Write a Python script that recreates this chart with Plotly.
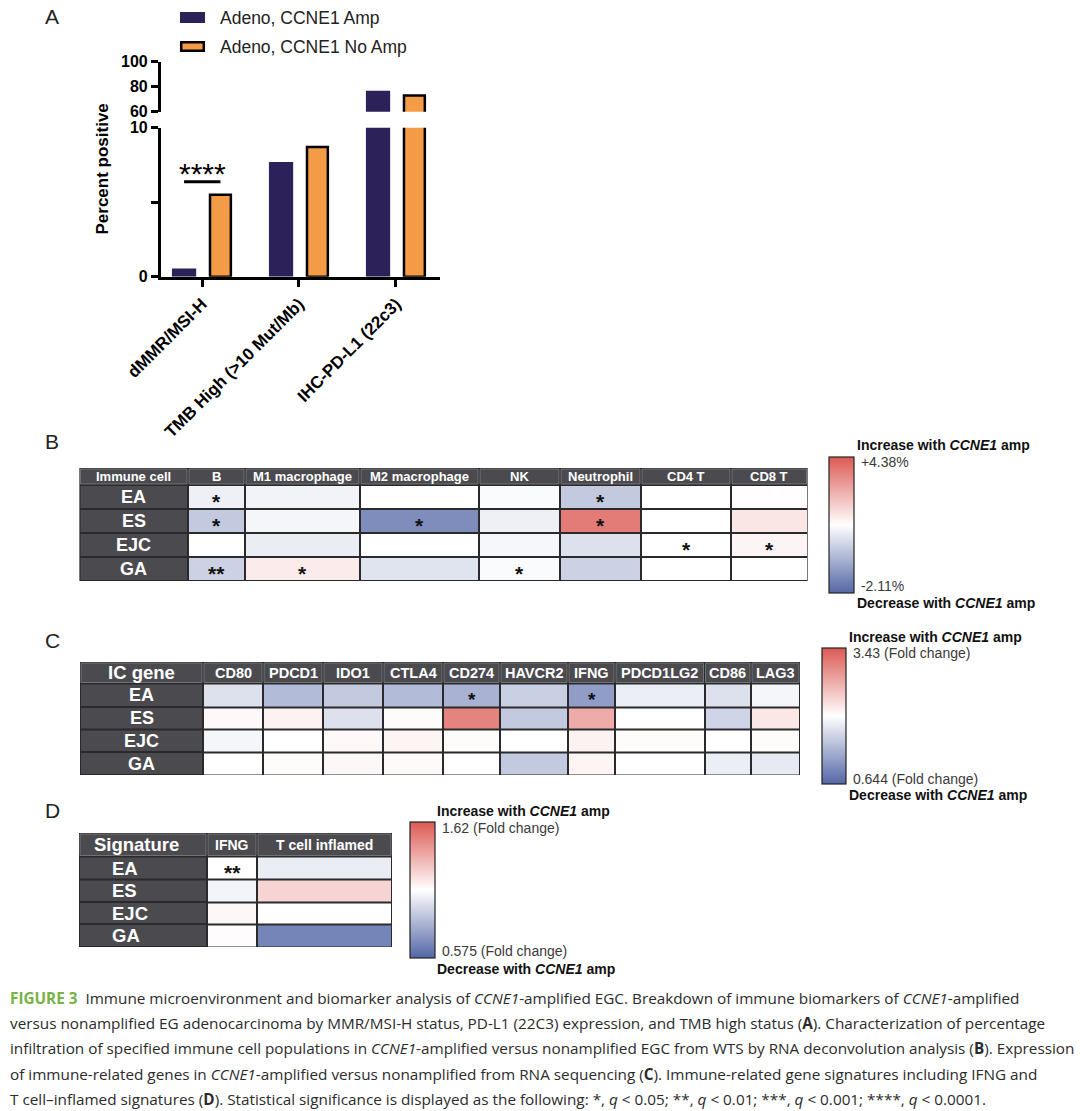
import plotly.graph_objects as go

W, H = 1080, 1111


def px(x):
    return x / W


def py(y):
    return 1 - y / H


# ------------------------------------------------------------------ DATA
# Panel A
a_categories = ["dMMR/MSI-H", "TMB High (>10 Mut/Mb)", "IHC-PD-L1 (22c3)"]
a_series = ["Adeno, CCNE1 Amp", "Adeno, CCNE1 No Amp"]
a_amp = [0.55, 7.7, 76.8]
a_noamp = [5.5, 8.7, 72.9]
a_sig_label = "****"
a_sig_height = 6.38

# Panel B  (difference in % infiltration, CCNE1 amp vs no amp)
b_rows = ["EA", "ES", "EJC", "GA"]
b_cols = ["B", "M1 macrophage", "M2 macrophage", "NK", "Neutrophil", "CD4 T", "CD8 T"]
b_vals = [
    [-0.21, -0.17, 0.00, -0.06, -0.74, 0.00, 0.05],
    [-0.74, -0.13, -1.58, -0.21, 3.50, 0.00, 0.66],
    [0.00, -0.25, 0.00, -0.11, -0.42, 0.00, 0.26],
    [-0.63, 0.53, -0.38, -0.06, -0.63, 0.00, 0.00],
]
b_sig = [
    ["*", "", "", "", "*", "", ""],
    ["*", "", "*", "", "*", "", ""],
    ["", "", "", "", "", "*", "*"],
    ["**", "*", "", "*", "", "", ""],
]
b_min, b_max, b_mid = -2.11, 4.38, 0.0
b_ticktext = ["+4.38%", "-2.11%"]

# Panel C  (fold change)
c_rows = ["EA", "ES", "EJC", "GA"]
c_cols = ["CD80", "PDCD1", "IDO1", "CTLA4", "CD274", "HAVCR2", "IFNG", "PDCD1LG2", "CD86", "LAG3"]
c_vals = [
    [0.93, 0.84, 0.875, 0.84, 0.82, 0.89, 0.77, 0.96, 0.93, 0.98],
    [1.10, 1.19, 0.93, 1.05, 2.82, 0.875, 2.22, 1.00, 0.90, 1.36],
    [0.98, 1.00, 1.10, 1.15, 1.05, 1.00, 1.19, 1.05, 1.00, 1.05],
    [1.00, 1.05, 1.12, 1.07, 1.00, 0.875, 1.15, 1.00, 0.96, 0.95],
]
c_sig = [
    ["", "", "", "", "*", "", "*", "", "", ""],
    ["", "", "", "", "", "", "", "", "", ""],
    ["", "", "", "", "", "", "", "", "", ""],
    ["", "", "", "", "", "", "", "", "", ""],
]
c_min, c_max, c_mid = 0.644, 3.43, 1.0
c_ticktext = ["3.43 (Fold change)", "0.644 (Fold change)"]

# Panel D  (fold change)
d_rows = ["EA", "ES", "EJC", "GA"]
d_cols = ["IFNG", "T cell inflamed"]
d_vals = [
    [1.00, 0.95],
    [0.97, 1.16],
    [1.03, 1.00],
    [1.01, 0.66],
]
d_sig = [
    ["**", ""],
    ["", ""],
    ["", ""],
    ["", ""],
]
d_min, d_max, d_mid = 0.575, 1.62, 1.0
d_ticktext = ["1.62 (Fold change)", "0.575 (Fold change)"]

caption_lines = [
    "<b><span style='color:#76b244'>FIGURE 3</span></b>  Immune microenvironment and biomarker analysis of <i>CCNE1</i>-amplified EGC. Breakdown of immune biomarkers of <i>CCNE1</i>-amplified",
    "versus nonamplified EG adenocarcinoma by MMR/MSI-H status, PD-L1 (22C3) expression, and TMB high status (<b>A</b>). Characterization of percentage",
    "infiltration of specified immune cell populations in <i>CCNE1</i>-amplified versus nonamplified EGC from WTS by RNA deconvolution analysis (<b>B</b>). Expression",
    "of immune-related genes in <i>CCNE1</i>-amplified versus nonamplified from RNA sequencing (<b>C</b>). Immune-related gene signatures including IFNG and",
    "T cell\u2013inflamed signatures (<b>D</b>). Statistical significance is displayed as the following: *, <i>q</i> &lt; 0.05; **, <i>q</i> &lt; 0.01; ***, <i>q</i> &lt; 0.001; ****, <i>q</i> &lt; 0.0001.",
]

# ------------------------------------------------------------------ STYLE
NAVY = "#2d2159"
ORANGE = "#f49b47"
CELL_DARK = "#4b4b4f"
LINE_DARK = "#2a2a2c"
COLORSCALE = [[0.0, "#5467a6"], [0.5, "#ffffff"], [1.0, "#dc5a54"]]
FONT = "Arial"

fig = go.Figure()
shapes = []
annotations = []


def note(x, y, text, size, color="#222", xanchor="center", yanchor="middle", **kw):
    d = dict(xref="paper", yref="paper", x=px(x), y=py(y), text=text, showarrow=False,
             xanchor=xanchor, yanchor=yanchor, font=dict(family=kw.pop("family", FONT), size=size, color=color))
    d.update(kw)
    annotations.append(d)


# ------------------------------------------------------------------ PANEL A
xi = list(range(len(a_categories)))
for xa, ya in (("x", "y"), ("x2", "y2")):
    fig.add_trace(go.Bar(x=xi, y=a_amp, width=0.25, offset=-0.31, name=a_series[0],
                         marker=dict(color=NAVY, line=dict(width=0)),
                         xaxis=xa, yaxis=ya, showlegend=False, hoverinfo="skip"))
    fig.add_trace(go.Bar(x=xi, y=a_noamp, width=0.215, offset=0.0825, name=a_series[1],
                         marker=dict(color=ORANGE, line=dict(color="black", width=2.5)),
                         xaxis=xa, yaxis=ya, showlegend=False, hoverinfo="skip"))

axis_common = dict(showline=True, linecolor="black", linewidth=2.5, ticks="outside",
                   tickcolor="black", tickwidth=2.5, showgrid=False, zeroline=False,
                   fixedrange=True, automargin=False)
layout_axes = dict(
    xaxis=dict(domain=[px(160.7), px(440)], range=[-0.426, 2.454], anchor="y",
               tickvals=xi, ticktext=a_categories, tickangle=-45, ticklen=8,
               tickfont=dict(family=FONT, size=17, color="black", weight="bold"), **axis_common),
    yaxis=dict(domain=[py(276.7), py(127.7)], range=[0, 10], anchor="x",
               tickvals=[0, 5, 10], ticktext=["0", "", "10"], ticklen=7,
               tickfont=dict(family=FONT, size=16, color="black", weight="bold"), **axis_common),
    xaxis2=dict(domain=[px(160.7), px(440)], range=[-0.426, 2.454], anchor="y2",
                visible=False, fixedrange=True),
    yaxis2=dict(domain=[py(111.7), py(61.7)], range=[60, 100], anchor="x2",
                tickvals=[60, 80, 100], ticklen=7,
                tickfont=dict(family=FONT, size=16, color="black", weight="bold"), **axis_common),
)

# significance bar
shapes.append(dict(type="line", xref="x", yref="y", x0=xi[0] - 0.185, x1=xi[0] + 0.19,
                   y0=a_sig_height, y1=a_sig_height, line=dict(color="black", width=3)))
annotations.append(dict(xref="x", yref="y", x=xi[0] + 0.005, y=a_sig_height, yanchor="bottom",
                        xanchor="center", yshift=-10, text=a_sig_label, showarrow=False,
                        font=dict(family=FONT, size=30, color="black")))
# y title
note(101.5, 169, "<b>Percent positive</b>", 17, color="black", textangle=-90)
# manual legend
leg_y = [17.5, 46.5]
for k, (name, col) in enumerate(zip(a_series, [NAVY, ORANGE])):
    yc = leg_y[k]
    if k == 0:
        shapes.append(dict(type="rect", xref="paper", yref="paper", x0=px(180), x1=px(205),
                           y0=py(yc + 5.5), y1=py(yc - 5.5), fillcolor=col, line=dict(width=0)))
    else:
        shapes.append(dict(type="rect", xref="paper", yref="paper", x0=px(181.2), x1=px(203.8),
                           y0=py(yc + 4.3), y1=py(yc - 4.3), fillcolor=col,
                           line=dict(color="black", width=2.5)))
    note(218, yc, name, 17.5, xanchor="left")

# panel letters
for letter, (lx, ly) in zip("ABCD", [(52, 16), (52, 441), (52, 640), (52, 810)]):
    note(lx, ly, letter, 21)


# ------------------------------------------------------------------ TABLE HEATMAPS
def normalise(vals, lo, hi, mid):
    out = []
    for row in vals:
        out.append([(v - mid) / (hi - mid) if v >= mid else (v - mid) / (mid - lo) for v in row])
    return out


def add_table(n, col_edges, row_edges, corner, rows, cols, vals, sig, lo, hi, mid, ticktext,
              cbar, corner_size, head_size, row_size, sig_size, row_left=None, corner_left=None,
              cb_tick_pos=(0.92, -0.9), titles_x=None, titles_y=None):
    xa, ya = f"x{n}", f"y{n}"
    layout_axes[f"xaxis{n}"] = dict(domain=[px(col_edges[0]), px(col_edges[-1])],
                                    range=[col_edges[0], col_edges[-1]], anchor=ya,
                                    visible=False, fixedrange=True)
    layout_axes[f"yaxis{n}"] = dict(domain=[py(row_edges[-1]), py(row_edges[0])],
                                    range=[row_edges[-1], row_edges[0]], anchor=xa,
                                    visible=False, fixedrange=True)
    bx, by, bw, bl = cbar
    fig.add_trace(go.Heatmap(
        x=col_edges[1:], y=row_edges[1:], z=normalise(vals, lo, hi, mid),
        zmin=-1, zmax=1, colorscale=COLORSCALE, xgap=2, ygap=2,
        xaxis=xa, yaxis=ya, hoverinfo="skip",
        colorbar=dict(x=px(bx), xanchor="left", xpad=0, y=py(by), yanchor="top", ypad=0,
                      len=bl, lenmode="pixels", thickness=bw, thicknessmode="pixels",
                      outlinewidth=1.2, outlinecolor="#222",
                      tickvals=list(cb_tick_pos), ticktext=ticktext, ticks="outside",
                      ticklen=4, tickcolor="rgba(0,0,0,0)",
                      tickfont=dict(family=FONT, size=14, color="#3a3a3a")),
    ))
    # table background (dark lines)
    shapes.append(dict(type="rect", xref=xa, yref=ya, x0=col_edges[0], x1=col_edges[-1],
                       y0=row_edges[0], y1=row_edges[-1], fillcolor=LINE_DARK,
                       line=dict(color=LINE_DARK, width=1.5), layer="below"))
    # header cells
    for j in range(len(col_edges) - 1):
        shapes.append(dict(type="rect", xref=xa, yref=ya, x0=col_edges[j] + 1, x1=col_edges[j + 1] - 1,
                           y0=row_edges[0] + 1, y1=row_edges[1] - 1, fillcolor=CELL_DARK,
                           line=dict(color="#808084", width=0.8), layer="below"))
    # row label cells
    for i in range(len(rows)):
        shapes.append(dict(type="rect", xref=xa, yref=ya, x0=col_edges[0] + 1, x1=col_edges[1] - 1,
                           y0=row_edges[i + 1] + 1, y1=row_edges[i + 2] - 1, fillcolor=CELL_DARK,
                           line=dict(width=0), layer="below"))
    hy = (row_edges[0] + row_edges[1]) / 2

    def cell_text(x, y, text, size, color, xanchor="center", yshift=0):
        annotations.append(dict(xref=xa, yref=ya, x=x, y=y, text=text, showarrow=False,
                                xanchor=xanchor, yanchor="middle", yshift=yshift,
                                font=dict(family=FONT, size=size, color=color)))

    # corner text
    if corner_left is None:
        cell_text((col_edges[0] + col_edges[1]) / 2, hy, f"<b>{corner}</b>", corner_size, "white")
    else:
        cell_text(corner_left, hy, f"<b>{corner}</b>", corner_size, "white", xanchor="left")
    for j, c in enumerate(cols):
        cell_text((col_edges[j + 1] + col_edges[j + 2]) / 2, hy, f"<b>{c}</b>", head_size, "white")
    for i, r in enumerate(rows):
        ry = (row_edges[i + 1] + row_edges[i + 2]) / 2
        if row_left is None:
            cell_text((col_edges[0] + col_edges[1]) / 2, ry, f"<b>{r}</b>", row_size, "white")
        else:
            cell_text(row_left, ry, f"<b>{r}</b>", row_size, "white", xanchor="left")
        for j in range(len(cols)):
            if sig[i][j]:
                cell_text((col_edges[j + 1] + col_edges[j + 2]) / 2, ry, f"<b>{sig[i][j]}</b>",
                          sig_size, "#111", yshift=-4)
    # colour bar titles
    note(titles_x, titles_y[0], "<b>Increase with <i>CCNE1</i> amp</b>", 14, color="#111", xanchor="left")
    note(titles_x, titles_y[1], "<b>Decrease with <i>CCNE1</i> amp</b>", 14, color="#111", xanchor="left")


add_table(3, [79.5, 188, 245, 360, 479, 560, 641, 731, 807.5], [468, 485, 509, 533, 557, 581],
          "Immune cell", b_rows, b_cols, b_vals, b_sig, b_min, b_max, b_mid, b_ticktext,
          cbar=(829, 457, 25, 136), corner_size=13, head_size=13, row_size=18, sig_size=21,
          cb_tick_pos=(0.93, -0.9), titles_x=855, titles_y=(445, 602.5))

add_table(4, [80, 203, 263, 323, 383, 443, 500, 568, 615, 704.5, 751, 800],
          [662, 683.5, 707, 729.5, 752, 775],
          "IC gene", c_rows, c_cols, c_vals, c_sig, c_min, c_max, c_mid, c_ticktext,
          cbar=(822, 648, 24, 136), corner_size=18.5, head_size=14.5, row_size=18, sig_size=19,
          cb_tick_pos=(0.926, -0.926), titles_x=847, titles_y=(637, 794.5))

add_table(5, [79, 207, 257, 392], [833, 856.5, 879.5, 902, 924, 947],
          "Signature", d_rows, d_cols, d_vals, d_sig, d_min, d_max, d_mid, d_ticktext,
          cbar=(410, 822, 25, 136), corner_size=18.5, head_size=14, row_size=18.5, sig_size=21,
          row_left=110, corner_left=92, cb_tick_pos=(0.912, -0.897), titles_x=435,
          titles_y=(811, 969))

# ------------------------------------------------------------------ CAPTION
for k, line in enumerate(caption_lines):
    note(8, 998 + 25.2 * k, line, 15.3, color="#2b2b2b", xanchor="left", family="Open Sans")

fig.update_layout(
    width=W, height=H, margin=dict(l=0, r=0, t=0, b=0, pad=0, autoexpand=False),
    paper_bgcolor="white", plot_bgcolor="rgba(0,0,0,0)",
    showlegend=False, barmode="overlay",
    font=dict(family=FONT, color="black"),
    shapes=shapes, annotations=annotations,
    **layout_axes,
)

fig.write_html("out.html")
